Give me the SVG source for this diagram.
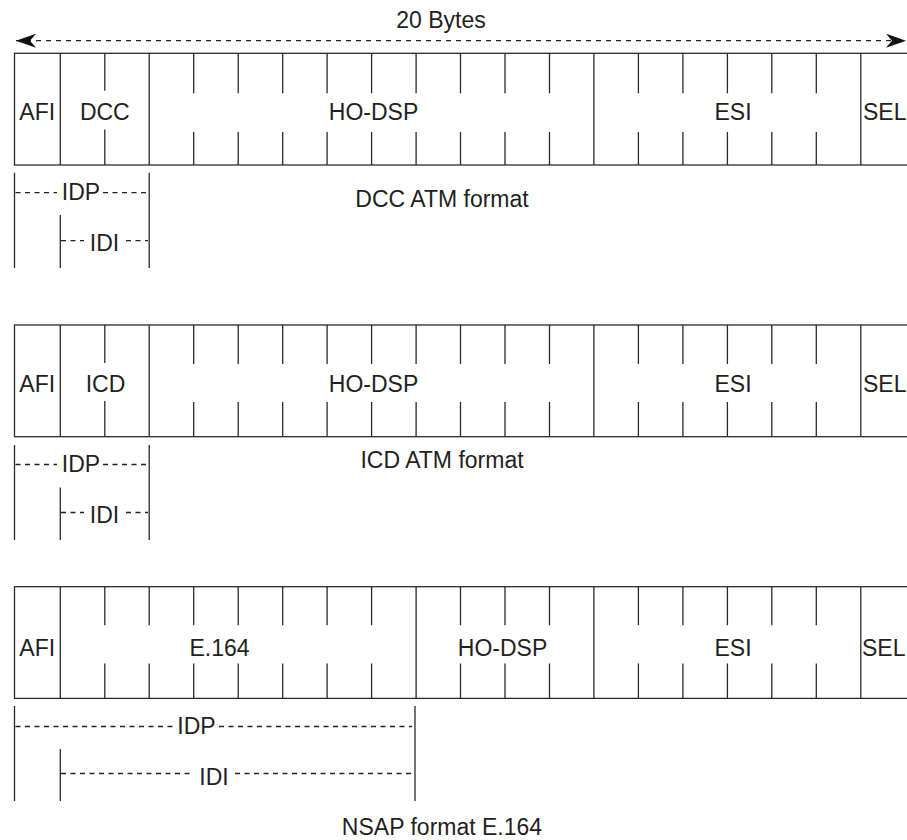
<svg xmlns="http://www.w3.org/2000/svg" width="907" height="840" viewBox="0 0 907 840">
<style>
.ln{stroke:#2a2a2a;stroke-width:1.3;fill:none}
.dl{stroke:#222;stroke-width:1.3;fill:none;stroke-dasharray:5,4.5}
.t{font-family:"Liberation Sans",Arial,sans-serif;font-size:23px;fill:#231f20;text-anchor:middle}
.tl{font-family:"Liberation Sans",Arial,sans-serif;font-size:23px;fill:#231f20;text-anchor:start}
</style>
<defs>
<marker id="ah" viewBox="0 0 20 14" refX="20" refY="7" markerWidth="20" markerHeight="14" markerUnits="userSpaceOnUse" orient="auto-start-reverse">
<path d="M0,0 L20,7 L0,14 L6,7 Z" fill="#111"/>
</marker>
</defs>

<g id="connectors">
<line x1="16" y1="40.7" x2="906" y2="40.7" stroke="#222" stroke-width="1.3" stroke-dasharray="5,5" marker-start="url(#ah)" marker-end="url(#ah)"/>
</g>
<text id="bytes-label" class="t" x="441" y="28">20 Bytes</text>

<!-- Row 1: DCC ATM format -->
<g id="row1">
<rect class="ln" x="14.5" y="53.3" width="900" height="111.7"/>
<path class="ln" d="M60.3,53.3V165 M149.2,53.3V165 M593.9,53.3V165 M860.8,53.3V165"/>
<path class="ln" d="M104.8,53.3v37.5 M104.8,129.5V165
M193.7,53.3v40 M238.2,53.3v40 M282.7,53.3v40 M327.1,53.3v40 M371.6,53.3v40 M416.1,53.3v40 M460.5,53.3v40 M505,53.3v40 M549.5,53.3v40
M638.4,53.3v40 M682.9,53.3v40 M727.4,53.3v40 M771.8,53.3v40 M816.3,53.3v40
M193.7,132V165 M238.2,132V165 M282.7,132V165 M327.1,132V165 M371.6,132V165 M416.1,132V165 M460.5,132V165 M505,132V165 M549.5,132V165
M638.4,132V165 M682.9,132V165 M727.4,132V165 M771.8,132V165 M816.3,132V165"/>
<text class="t" x="37.2" y="120">AFI</text>
<text class="t" x="104.8" y="120">DCC</text>
<text class="t" x="373.5" y="120">HO-DSP</text>
<text class="t" x="733" y="120">ESI</text>
<text class="tl" x="863" y="120">SEL</text>
</g>
<g id="row1-idp">
<path class="ln" d="M14.5,172.7V268 M149.2,172.7V268 M60.3,215V268"/>
<path class="dl" d="M15.5,192.7H57 M103,192.7H146 M61,240.7H84 M126,240.7H148"/>
<text class="t" x="81" y="200">IDP</text>
<text class="t" x="104.5" y="250.7">IDI</text>
</g>
<text id="caption1" class="t" x="442" y="206.7">DCC ATM format</text>

<!-- Row 2: ICD ATM format -->
<g id="row2">
<rect class="ln" x="14.5" y="325" width="900" height="111.7"/>
<path class="ln" d="M60.3,325V436.7 M149.2,325V436.7 M593.9,325V436.7 M860.8,325V436.7"/>
<path class="ln" d="M104.8,325v38 M104.8,401V436.7
M193.7,325v39 M238.2,325v39 M282.7,325v39 M327.1,325v39 M371.6,325v39 M416.1,325v39 M460.5,325v39 M505,325v39 M549.5,325v39
M638.4,325v39 M682.9,325v39 M727.4,325v39 M771.8,325v39 M816.3,325v39
M193.7,402V436.7 M238.2,402V436.7 M282.7,402V436.7 M327.1,402V436.7 M371.6,402V436.7 M416.1,402V436.7 M460.5,402V436.7 M505,402V436.7 M549.5,402V436.7
M638.4,402V436.7 M682.9,402V436.7 M727.4,402V436.7 M771.8,402V436.7 M816.3,402V436.7"/>
<text class="t" x="37.2" y="391.5">AFI</text>
<text class="t" x="105.5" y="391.5">ICD</text>
<text class="t" x="373.5" y="391.5">HO-DSP</text>
<text class="t" x="733" y="391.5">ESI</text>
<text class="tl" x="863" y="391.5">SEL</text>
</g>
<g id="row2-idp">
<path class="ln" d="M14.5,445V540 M149.2,445V540 M60.3,487.5V540"/>
<path class="dl" d="M15.5,464.5H57 M103,464.5H146 M61,512.5H84 M126,512.5H148"/>
<text class="t" x="81" y="472">IDP</text>
<text class="t" x="104.5" y="522.5">IDI</text>
</g>
<text id="caption2" class="t" x="442" y="467.7">ICD ATM format</text>

<!-- Row 3: NSAP format E.164 -->
<g id="row3">
<rect class="ln" x="14.5" y="586.7" width="900" height="111.7"/>
<path class="ln" d="M60.3,586.7V698.4 M416.1,586.7V698.4 M593.9,586.7V698.4 M860.8,586.7V698.4"/>
<path class="ln" d="M104.8,586.7v38.5 M149.2,586.7v38.5 M193.7,586.7v38.5 M238.2,586.7v38.5 M282.7,586.7v38.5 M327.1,586.7v38.5 M371.6,586.7v38.5
M460.5,586.7v38.5 M505,586.7v38.5 M549.5,586.7v38.5
M638.4,586.7v38.5 M682.9,586.7v38.5 M727.4,586.7v38.5 M771.8,586.7v38.5 M816.3,586.7v38.5
M104.8,663.5V698.4 M149.2,663.5V698.4 M193.7,663.5V698.4 M238.2,663.5V698.4 M282.7,663.5V698.4 M327.1,663.5V698.4 M371.6,663.5V698.4
M460.5,663.5V698.4 M505,663.5V698.4 M549.5,663.5V698.4
M638.4,663.5V698.4 M682.9,663.5V698.4 M727.4,663.5V698.4 M771.8,663.5V698.4 M816.3,663.5V698.4"/>
<text class="t" x="37.2" y="655.5">AFI</text>
<text class="t" x="219.5" y="655.5">E.164</text>
<text class="t" x="502.5" y="655.5">HO-DSP</text>
<text class="t" x="733" y="655.5">ESI</text>
<text class="tl" x="862" y="655.5">SEL</text>
</g>
<g id="row3-idp">
<path class="ln" d="M14.5,706V801 M415,706V801 M60.3,749V801"/>
<path class="dl" d="M15.5,726.5H174 M219,726.5H412 M61,773.5H193 M235,773.5H412"/>
<text class="t" x="196.5" y="733.5">IDP</text>
<text class="t" x="214" y="784.5">IDI</text>
</g>
<text id="caption3" class="t" x="442" y="835">NSAP format E.164</text>
</svg>
